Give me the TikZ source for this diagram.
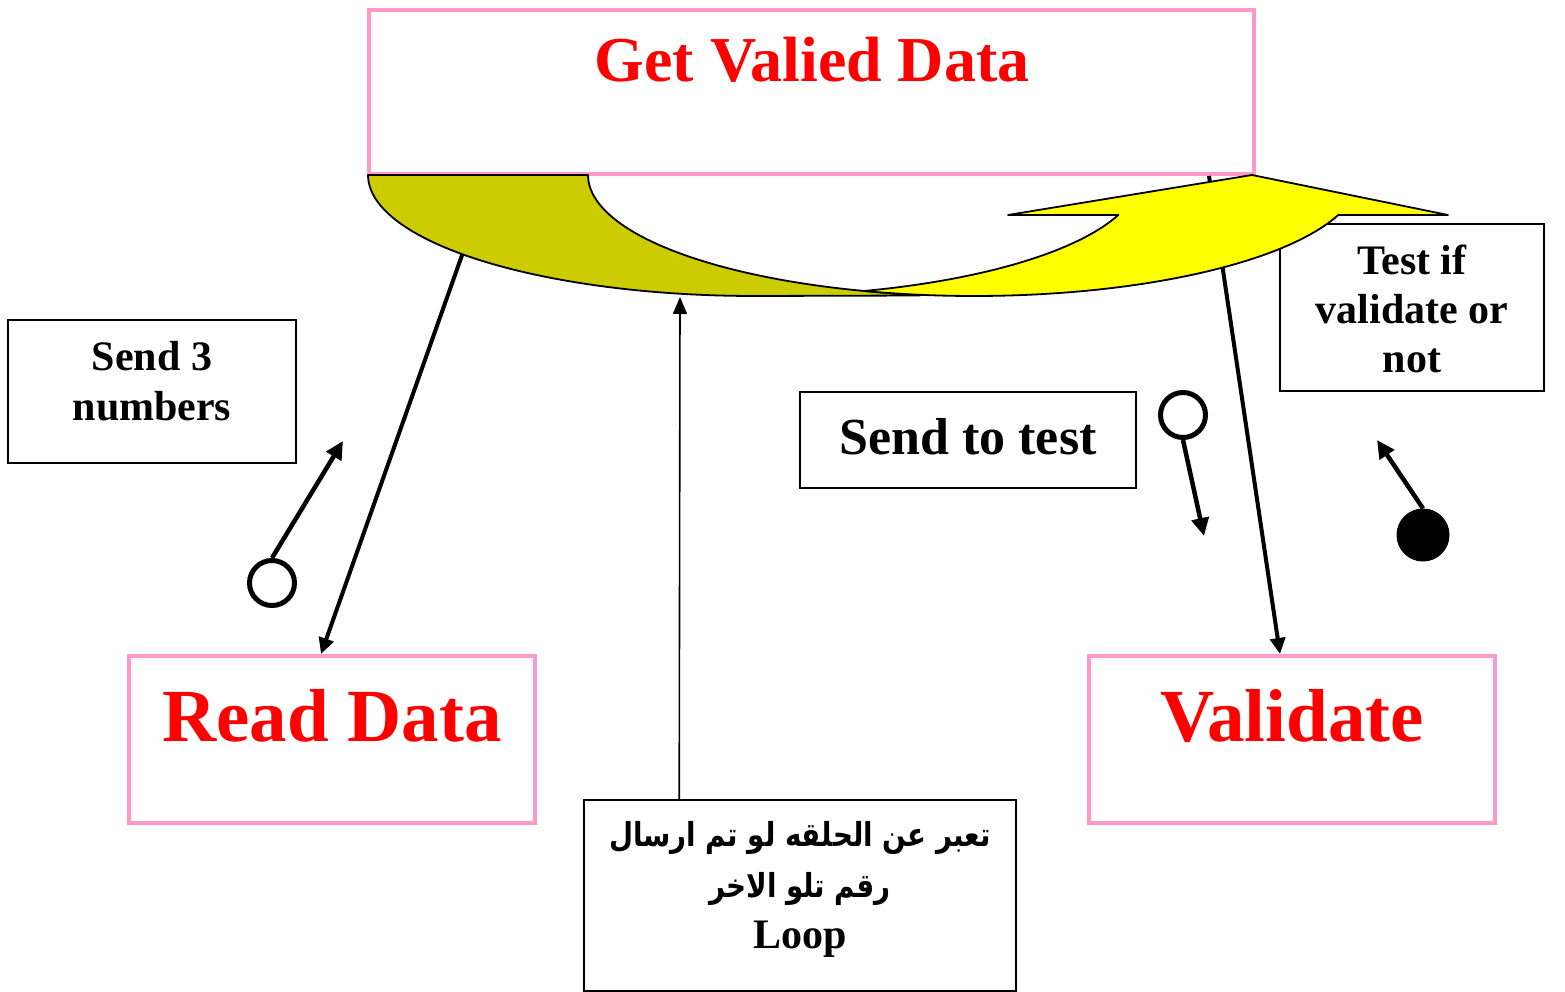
\documentclass[tikz,border=0pt]{standalone}
\usepackage{fontspec}
\setmainfont{Liberation Serif}
\newfontfamily\arabicfont[Script=Arabic,FakeStretch=0.84]{DejaVu Sans}
\TeXXeTstate=1
\usetikzlibrary{arrows.meta}

\definecolor{boxpink}{RGB}{255,153,204}
\definecolor{bandolive}{RGB}{204,204,0}
\definecolor{bandyellow}{RGB}{255,255,0}

\begin{document}
\begin{tikzpicture}[x=1pt,y=-1pt,
  pinkbox/.style={draw=boxpink, line width=4pt, inner sep=0pt, fill=white},
  blackbox/.style={draw=black, line width=1.6pt, inner sep=0pt, fill=white},
  bigred/.style={text=red, inner sep=0pt, font=\fontsize{75}{80}\selectfont\bfseries},
  boxtext/.style={inner sep=0pt, align=center, font=\fontsize{42}{50}\selectfont\bfseries},
  knob/.style={circle, draw=black, line width=5pt, minimum size=45pt, inner sep=0pt, fill=white},
  bigarrow/.style={line width=4pt, -{Triangle[length=16pt,width=15pt]}},
  smallarrow/.style={line width=4.5pt, -{Triangle[length=18pt,width=17pt]}},
  thinarrow/.style={line width=1.6pt, -{Triangle[length=17pt,width=14pt]}},
  bandline/.style={draw=black, line width=1.8pt, line join=round}
]
\useasboundingbox (0,0) rectangle (1565,992);

% process boxes
\node[pinkbox, minimum width=885pt, minimum height=164pt] (top) at (811.5,92) {};
\node[pinkbox, minimum width=406pt, minimum height=167pt] (rd) at (332,739.5) {};
\node[pinkbox, minimum width=406pt, minimum height=167pt] (val) at (1292,739.5) {};

% note boxes
\node[blackbox, minimum width=288pt, minimum height=143pt] (nsend) at (152,391.5) {};
\node[blackbox, minimum width=336pt, minimum height=96pt] (ntest) at (968,440) {};
\node[blackbox, minimum width=264pt, minimum height=167pt] (nvalid) at (1412,307.5) {};
\node[blackbox, minimum width=432pt, minimum height=191pt] (nloop) at (800,895.5) {};

% box titles
\node[bigred, font=\fontsize{64}{70}\selectfont\bfseries] (ttop) at (812,60) {Get Valied Data};
\node[bigred] (trd) at (332,716) {Read Data};
\node[bigred] (tval) at (1292,716) {Validate};

% note texts
\node[boxtext] (tsend) at (152,381) {Send 3\\numbers};
\node[boxtext, font=\fontsize{52}{60}\selectfont\bfseries] (ttest) at (968,437) {Send to test};
\node[boxtext, font=\fontsize{42}{49}\selectfont\bfseries] (tvalid) at (1412,309) {Test if\\validate or\\not};
\node[boxtext, font=\fontsize{42}{51}\selectfont\bfseries] (tloop) at (800,889)
  {{\arabicfont\fontsize{33}{51}\selectfont\bfseries\beginR تعبر عن الحلقه لو تم ارسال\endR}\\
   {\arabicfont\fontsize{33}{51}\selectfont\bfseries\beginR رقم تلو الاخر\endR}\\
   Loop};

% flows between the processes
\draw[bigarrow] ([xshift=123pt]top.south west) -- ([xshift=194pt]rd.north west);
\draw[bigarrow] ([xshift=842pt]top.south west) -- ([xshift=193pt]val.north west);

% curved loop band: back part
\filldraw[bandline, fill=bandolive]
  plot[domain=180:90, samples=50, variable=\t] ({754+386*cos(\t)}, {175+121*sin(\t)})
  -- (920,295.5)
  -- plot[domain=98.04:180, samples=50, variable=\t] ({974+386*cos(\t)}, {175+121*sin(\t)})
  -- cycle;
% curved loop band: front part with arrow head
\filldraw[bandline, fill=bandyellow]
  plot[domain=73.44:19.3, samples=50, variable=\t] ({754+386*cos(\t)}, {175+121*sin(\t)})
  -- (1008,215) -- (1252,175) -- (1448,215)
  -- plot[domain=19.3:106.56, samples=60, variable=\t] ({974+386*cos(\t)}, {175+121*sin(\t)})
  -- cycle;

% loop note pointer
\coordinate (loopend) at (680,297);
\draw[thinarrow] ([xshift=96pt]nloop.north west) -- (loopend);

% data couples
\node[knob] (k1) at (272,583) {};
\coordinate (k1tip) at (343,441);
\draw[smallarrow] (k1.north) -- (k1tip);

\node[knob] (k2) at (1183,415) {};
\coordinate (k2tip) at (1204,536);
\draw[smallarrow] (k2.south) -- (k2tip);

\node[knob, fill=black, minimum size=52pt, line width=1pt] (k3) at (1423,535) {};
\coordinate (k3tip) at (1377,440);
\draw[smallarrow] (k3.north) -- (k3tip);
\end{tikzpicture}
\end{document}
